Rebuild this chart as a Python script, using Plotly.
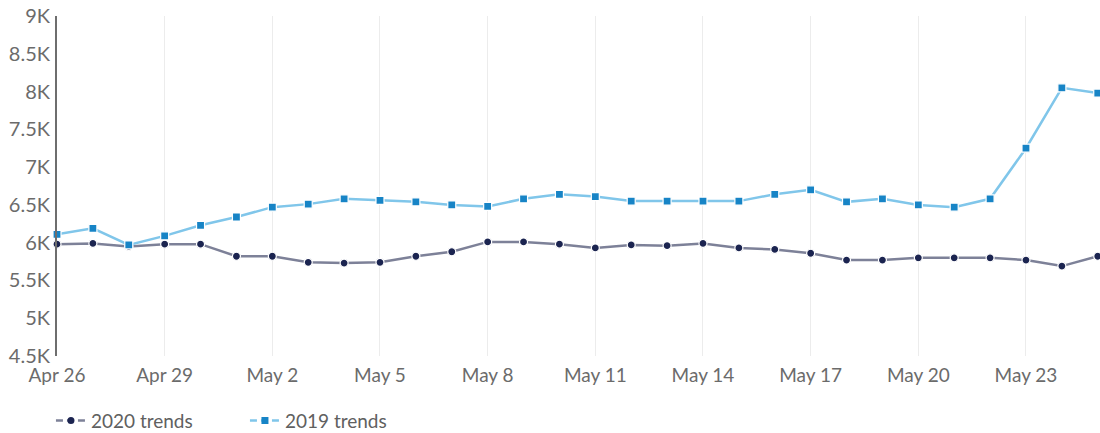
import plotly.graph_objects as go
import pandas as pd

dates = pd.date_range("2020-04-26", "2020-05-25", freq="D")
trends_2020 = [5.98, 5.99, 5.95, 5.98, 5.98, 5.82, 5.82, 5.74, 5.73, 5.74,
               5.82, 5.88, 6.01, 6.01, 5.98, 5.93, 5.97, 5.96, 5.99, 5.93,
               5.91, 5.86, 5.77, 5.77, 5.80, 5.80, 5.80, 5.77, 5.69, 5.82]
trends_2019 = [6.11, 6.19, 5.97, 6.09, 6.23, 6.34, 6.47, 6.51, 6.58, 6.56,
               6.54, 6.50, 6.48, 6.58, 6.64, 6.61, 6.55, 6.55, 6.55, 6.55,
               6.64, 6.70, 6.54, 6.58, 6.50, 6.47, 6.58, 7.25, 8.05, 7.98]
trends_2020 = [v * 1000 for v in trends_2020]
trends_2019 = [v * 1000 for v in trends_2019]
y_ticks = [4500, 5000, 5500, 6000, 6500, 7000, 7500, 8000, 8500, 9000]
y_tick_labels = ["4.5K", "5K", "5.5K", "6K", "6.5K", "7K", "7.5K", "8K", "8.5K", "9K"]

FONT = "Lato, 'Open Sans', sans-serif"
C20_LINE, C20_MARK = "#7d8198", "#1b2450"
C19_LINE, C19_MARK = "#80c6ea", "#1784c6"

fig = go.Figure()
fig.add_trace(go.Scatter(
    x=dates, y=trends_2020, name="2020 trends", mode="lines+markers",
    showlegend=False, cliponaxis=False,
    line=dict(color=C20_LINE, width=2.5),
    marker=dict(symbol="circle", size=8, color=C20_MARK,
                line=dict(color="white", width=1.2)),
))
fig.add_trace(go.Scatter(
    x=dates, y=trends_2019, name="2019 trends", mode="lines+markers",
    showlegend=False, cliponaxis=False,
    line=dict(color=C19_LINE, width=2.5),
    marker=dict(symbol="square", size=8, color=C19_MARK,
                line=dict(color="white", width=1.2)),
))
# legend entries (dashed symbol style like the reference)
fig.add_trace(go.Scatter(
    x=[None], y=[None], name="2020 trends", mode="lines+markers",
    line=dict(color=C20_LINE, width=2.5, dash="7px,4px"),
    marker=dict(symbol="circle", size=7, color=C20_MARK),
))
fig.add_trace(go.Scatter(
    x=[None], y=[None], name="2019 trends", mode="lines+markers",
    line=dict(color=C19_LINE, width=2.5, dash="7px,4px"),
    marker=dict(symbol="square", size=7, color=C19_MARK),
))

fig.update_layout(
    width=1100, height=433,
    margin=dict(l=57, r=0, t=16, b=77, autoexpand=False),
    plot_bgcolor="white", paper_bgcolor="white",
    font=dict(family=FONT, size=19, color="#6b6b6b"),
    showlegend=True,
    legend=dict(orientation="h", x=-0.0058, xanchor="left", y=-0.19, yanchor="middle",
                font=dict(size=19, color="#606060"),
                entrywidth=149, entrywidthmode="pixels"),
    xaxis=dict(
        range=[pd.Timestamp("2020-04-26"), pd.Timestamp("2020-05-25 01:30")],
        tickmode="array",
        tickvals=pd.date_range("2020-04-26", "2020-05-23", freq="3D"),
        tickformat="%b %-d",
        showgrid=True, gridcolor="#ececec", gridwidth=1,
        showline=False, zeroline=False, ticks="",
        ticklabelstandoff=6, automargin=False,
        tickfont=dict(size=19, color="#6b6b6b"),
    ),
    yaxis=dict(
        range=[4500, 9000],
        tickmode="array", tickvals=y_ticks, ticktext=y_tick_labels,
        showgrid=False, zeroline=False,
        showline=True, linecolor="#6e6e6e", linewidth=2,
        ticks="", ticklabelstandoff=1, automargin=False,
        tickfont=dict(size=20, color="#6b6b6b"),
    ),
)

# remove the default 8px page-body margin so the figure sits at the window origin
fig.write_html("out.html", config={"displayModeBar": False},
               post_script="document.body.style.margin='0';")
